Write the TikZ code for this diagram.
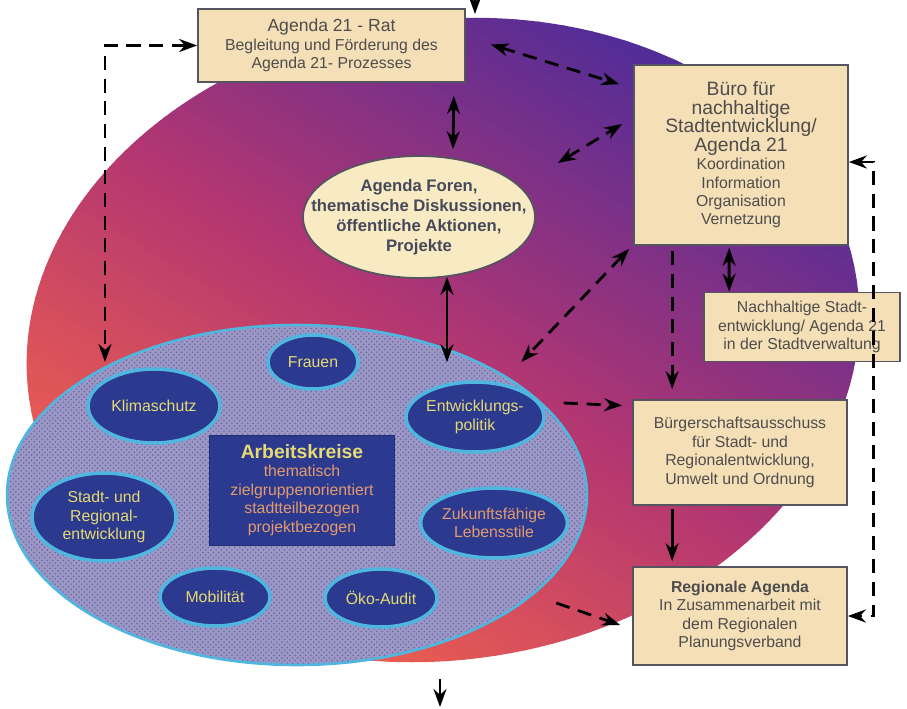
\documentclass[tikz,border=0pt]{standalone}
\usepackage{fontspec}
\setmainfont{Liberation Sans}
\usetikzlibrary{arrows.meta,positioning,shapes.geometric,calc,patterns}
\definecolor{Koralle}{HTML}{F6654A}
\definecolor{Violett}{HTML}{4B2C9A}
\definecolor{Magenta}{HTML}{B23672}
\definecolor{Papier}{HTML}{F5DFB6}
\definecolor{Rahmen}{HTML}{55555F}
\definecolor{Schrift}{HTML}{4D4D4D}
\definecolor{Creme}{HTML}{F8EBC4}
\definecolor{Lavendel}{HTML}{9C97C3}
\definecolor{Punkt}{HTML}{6366B0}
\definecolor{Tief}{HTML}{2B3A8E}
\definecolor{Hellblau}{HTML}{4FB6E0}
\definecolor{Gelb}{HTML}{E6DA72}
\definecolor{Lachs}{HTML}{E49A6E}
\newcommand{\buerogross}[1]{{\fontsize{11}{12.5}\selectfont #1}}

\begin{document}
\begin{tikzpicture}[
  x=0.02cm,y=-0.02cm,
  klein/.style={font=\fontsize{9}{10.5}\selectfont},
  kasten/.style={draw=Rahmen,line width=1pt,fill=Papier,text=Schrift,align=center,inner sep=2pt,klein},
  forum/.style={ellipse,draw=Rahmen,line width=1pt,fill=Creme,text=Schrift!80!Tief,align=center,inner xsep=-15pt,inner ysep=1pt,font=\bfseries\fontsize{9.5}{11.5}\selectfont},
  kreis/.style={ellipse,draw=Hellblau,line width=1.5pt,preaction={fill=Lavendel},pattern=crosshatch dots,pattern color=Punkt,minimum width=11.6cm,minimum height=6.8cm},
  thema/.style={ellipse,draw=Hellblau,line width=2pt,fill=Tief,text=Gelb,align=center,inner sep=0pt,klein},
  kern/.style={draw=Tief!80!black,fill=Tief,text=Lachs,align=center,minimum width=3.7cm,minimum height=2.2cm,klein},
  pfeil/.style={-{Stealth[length=3.6mm,width=2.6mm]},line width=1.6pt,draw=black},
  beide/.style={{Stealth[length=3.6mm,width=2.6mm]}-{Stealth[length=3.6mm,width=2.6mm]}},
  strich/.style={pfeil,dash pattern=on 8pt off 5pt}
]
\useasboundingbox (0,0) rectangle (907,708);
% Hintergrund: Verlauf in Streifen
\begin{scope}
  \clip[rotate around={8:(443,340)}] (443,340) ellipse [x radius=418, y radius=320];
  \foreach \i in {0,...,75} {
    \pgfmathtruncatemacro\anteil{min(100,max(0,200*\i/75-(\i>37.5)*100))}
    \ifnum\i<38
      \fill[Magenta!\anteil!Koralle,rotate around={58:(443,340)}] (63+10*\i,-300) rectangle (74+10*\i,1000);
    \else
      \fill[Violett!\anteil!Magenta,rotate around={58:(443,340)}] (63+10*\i,-300) rectangle (74+10*\i,1000);
    \fi
  }
\end{scope}

% Arbeitskreise
\node[kreis] (kreise) at (297,495) {};
\node[kern] (kern) at (302,490) {{\color{Gelb}\bfseries\fontsize{11}{13}\selectfont Arbeitskreise}\\thematisch\\zielgruppenorientiert\\stadtteilbezogen\\projektbezogen};
\node[thema,minimum width=1.8cm,minimum height=1.08cm] (frauen) at (313,362) {Frauen};
\node[thema,minimum width=2.64cm,minimum height=1.48cm] (klima) at (154,406) {Klimaschutz};
\node[thema,minimum width=2.68cm,minimum height=1.4cm] (entw) at (475,417) {Entwicklungs-\\politik};
\node[thema,minimum width=2.88cm,minimum height=1.76cm] (stadt) at (104,517) {Stadt- und\\Regional-\\entwicklung};
\node[thema,minimum width=2.88cm,minimum height=1.4cm,text=Lachs] (zukunft) at (494,523) {Zukunftsfähige\\Lebensstile};
\node[thema,minimum width=2.2cm,minimum height=1.16cm] (mobil) at (215,597) {Mobilität};
\node[thema,minimum width=2.24cm,minimum height=1.16cm] (oeko) at (381,598) {Öko-Audit};

% Gremien
\node[kasten,minimum width=5.34cm,minimum height=1.46cm] (rat) at (331.5,45.5)
  {{\fontsize{10}{12}\selectfont Agenda 21 - Rat}\\Begleitung und Förderung des\\Agenda 21- Prozesses};
\node[kasten,minimum width=4.28cm,minimum height=3.6cm] (buero) at (741,155)
  {\buerogross{Büro für}\\\buerogross{nachhaltige}\\\buerogross{Stadtentwicklung/}\\\buerogross{Agenda 21}\\Koordination\\Information\\Organisation\\Vernetzung};
\node[forum,minimum width=4.64cm,minimum height=2.44cm] (foren) at (419,217)
  {Agenda Foren,\\thematische Diskussionen,\\öffentliche Aktionen,\\Projekte};
\node[kasten,minimum width=3.92cm,minimum height=1.38cm] (nachh) at (802,327)
  {Nachhaltige Stadt-\\entwicklung/ Agenda 21\\in der Stadtverwaltung};
\node[kasten,minimum width=4.28cm,minimum height=2.1cm] (buerger) at (740,452.5)
  {Bürgerschaftsausschuss\\für Stadt- und\\Regionalentwicklung,\\Umwelt und Ordnung};
\node[kasten,minimum width=4.28cm,minimum height=1.96cm] (regional) at (740,616)
  {{\bfseries Regionale Agenda}\\In Zusammenarbeit mit\\dem Regionalen\\Planungsverband};

% freie Enden
\coordinate (obenein) at (475,0);
\coordinate (obenziel) at (475,14);
\coordinate (untenstart) at (440,679);
\coordinate (untenziel) at (440,707);
\coordinate (klimaziel) at (105,362);

% Verbindungen
\draw[pfeil] (obenein) -- (obenziel);
\draw[pfeil] (untenstart) -- (untenziel);
\draw[strich,beide] (rat.west) -| (klimaziel);
\draw[strich,beide] ($(rat.east)+(25,-1)$) -- ($(buero.north west)+(-14,20)$);
\draw[pfeil,beide] ($(rat.south east)+(-12,13)$) -- ($(foren.north)+(34,-6)$);
\draw[strich,beide] ($(foren.east)+(22,-54)$) -- ($(buero.west)+(-11,-31)$);
\draw[pfeil,beide] ($(foren.south)+(28,-2)$) -- ($(entw.north)+(-28,-18)$);
\draw[strich,beide] ($(buero.south west)+(-4,3)$) -- ($(kreise.east)+(-67,-133)$);
\draw[strich] ($(buero.south west)+(39,5)$) -- ($(buerger.north west)+(40,-10)$);
\draw[pfeil,beide] ($(buero.south west)+(96,2)$) -- ($(nachh.north west)+(26,0)$);
\draw[strich] ($(entw.east)+(18,-14)$) -- ($(buerger.west)+(-10,-47)$);
\draw[pfeil] ($(buerger.south west)+(40,3)$) -- ($(regional.north west)+(40,-5)$);
\draw[strich] ($(kreise.east)+(-32,108)$) -- ($(regional.west)+(-12,9)$);
\draw[strich,beide] ($(buero.east)+(0,7)$) -- ++(25,0) |- (regional.east);
\end{tikzpicture}
\end{document}
